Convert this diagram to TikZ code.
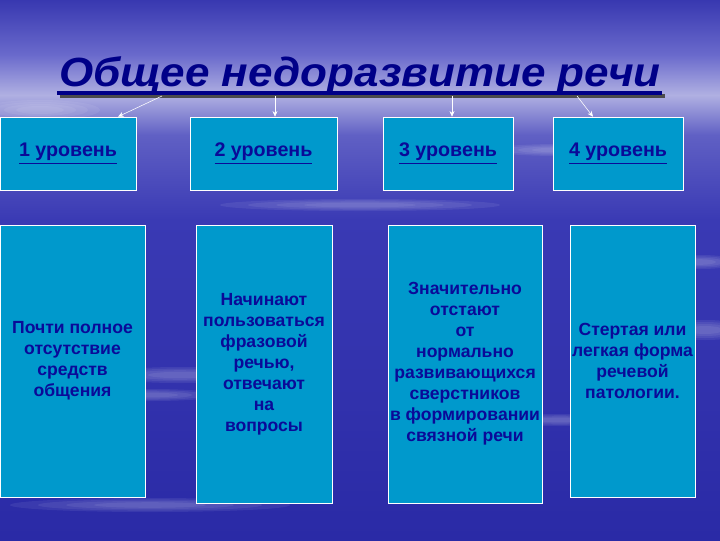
\documentclass[tikz,border=0pt]{standalone}
\usepackage{fontspec}
\setmainfont{Liberation Sans}
\newfontfamily\titlefont[FakeStretch=1.08]{Liberation Sans}
\usetikzlibrary{arrows.meta}
\definecolor{bgtop}{HTML}{3838B0}
\definecolor{bgupper}{HTML}{6A6ACC}
\definecolor{bglight}{HTML}{B0B0E2}
\definecolor{bglower}{HTML}{6060C4}
\definecolor{bgmid}{HTML}{3A3AB4}
\definecolor{bgbottom}{HTML}{2A2AA6}
\definecolor{boxfill}{HTML}{0099CC}
\definecolor{boxtext}{HTML}{0A0A98}
\definecolor{titleblue}{HTML}{000088}
\tikzstyle{level}=[
        draw=white,
        fill=boxfill,
        text=boxtext,
        font=\bfseries\fontsize{14}{16}\selectfont,
        inner sep=0pt
]
\tikzstyle{feature}=[
        draw=white,
        fill=boxfill,
        text=boxtext,
        align=center,
        font=\bfseries\fontsize{12.5}{14.9}\selectfont,
        inner sep=0pt
]
\tikzstyle{pointer}=[
        draw=white,
        thin,
        -{Stealth[length=4pt,width=3.5pt]}
]
\tikzstyle{streak}=[
        fill=white,
        opacity=0.07
]

\begin{document}
\begin{tikzpicture}[x=0.025cm,y=-0.025cm]
                        \useasboundingbox (0,0) rectangle (720,540);
                        \shade[top color=bgtop, bottom color=bgupper] (0,0) rectangle (720,55);
                        \shade[top color=bgupper, bottom color=bglight] (0,55) rectangle (720,95);
                        \shade[top color=bglight, bottom color=bglower] (0,95) rectangle (720,135);
                        \shade[top color=bglower, bottom color=bgmid] (0,135) rectangle (720,220);
                        \shade[top color=bgmid, bottom color=bgbottom] (0,220) rectangle (720,540);

                        \foreach \x/\y/\a/\b in {180/375/80/8, 150/395/70/6, 705/330/45/10, 700/262/40/7,
                                                 560/150/70/6, 360/205/140/6, 560/420/60/6, 150/505/140/7, 40/110/60/10} {
                            \foreach \s in {1.0,0.8,0.6,0.4} {
                                \fill[streak] (\x,\y) ellipse ({\a*\s} and {\b*\s});
                            }
                        }

                        \node[text=titleblue, anchor=base, inner sep=0pt, font=\titlefont\bfseries\itshape\fontsize{29}{32}\selectfont] (title) at (360,86) {Общее недоразвитие речи};
                        \draw[line width=2.8pt, black!70] (60,96) -- (665,96);
                        \draw[line width=2.8pt, titleblue] (57,93) -- (662,93);

                        \coordinate (from1) at (162,96);
                        \coordinate (from2) at (275,96);
                        \coordinate (from3) at (452,96);
                        \coordinate (from4) at (577,96);

                        \node[level, minimum width=3.4cm, minimum height=1.825cm] (lvl1) at (68,153.5) {\underline{1 уровень}};
                        \node[level, minimum width=3.675cm, minimum height=1.825cm] (lvl2) at (263.5,153.5) {\underline{2 уровень}};
                        \node[level, minimum width=3.25cm, minimum height=1.825cm] (lvl3) at (448,153.5) {\underline{3 уровень}};
                        \node[level, minimum width=3.25cm, minimum height=1.825cm] (lvl4) at (618,153.5) {\underline{4 уровень}};

                        \draw[pointer] (from1) -- ([xshift=1.25cm]lvl1.north);
                        \draw[pointer] (from2) -- (from2 |- lvl2.north);
                        \draw[pointer] (from3) -- (from3 |- lvl3.north);
                        \draw[pointer] (from4) -- ([xshift=-0.625cm]lvl4.north);

                        \node[feature, minimum width=3.625cm, minimum height=6.8cm] (feat1) at (72.5,361) {Почти полное\\отсутствие\\средств\\общения};
                        \node[feature, minimum width=3.4cm, minimum height=6.95cm] (feat2) at (264,364) {Начинают\\пользоваться\\фразовой\\речью,\\отвечают\\на\\вопросы};
                        \node[feature, minimum width=3.85cm, minimum height=6.95cm] (feat3) at (465,364) {Значительно\\отстают\\от\\нормально\\развивающихся\\сверстников\\в формировании\\связной речи};
                        \node[feature, minimum width=3.125cm, minimum height=6.8cm] (feat4) at (632.5,361) {Стертая или\\легкая форма\\речевой\\патологии.};
                        
                    \end{tikzpicture}
\end{document}
